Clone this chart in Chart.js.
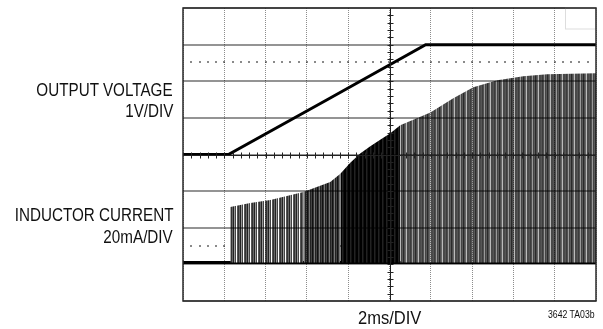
<!DOCTYPE html>
<html>
<head>
<meta charset="utf-8">
<script src="https://cdn.jsdelivr.net/npm/chart.js@4.4.1/dist/chart.umd.min.js"></script>
<style>
  html, body { margin:0; padding:0; background:#fff; }
  #wrap { position:relative; width:603px; height:329px; }
  .lbl { position:absolute; font-family:"Liberation Sans", Arial, sans-serif; color:#111; line-height:1; white-space:nowrap; }
  .dir { transform:scaleX(0.87); transform-origin:right top; text-align:right; }
  .esq { transform:scaleX(0.87); transform-origin:left top; }
</style>
</head>
<body>
<div id="wrap">
  <canvas id="scope" width="603" height="329"></canvas>
  <div class="lbl dir" style="right:430px; top:82px; font-size:17.5px;">OUTPUT VOLTAGE</div>
  <div class="lbl dir" style="right:430px; top:102.5px; font-size:17.5px;">1V/DIV</div>
  <div class="lbl dir" style="right:430px; top:207px; font-size:17.5px;">INDUCTOR CURRENT</div>
  <div class="lbl dir" style="right:430px; top:228.5px; font-size:17.5px;">20mA/DIV</div>
  <div class="lbl esq" style="left:358px; top:308px; font-size:19px;">2ms/DIV</div>
  <div class="lbl dir" style="right:8px; top:310px; font-size:10px;">3642 TA03b</div>
</div>
<script>
// Tensão de saída (1V/DIV), tempo em ms (2ms/DIV)
const tempoTensao = [0, 2.2, 7.0, 11.75, 20];
const tensao = [0, 0, 1.5, 3.0, 3.0];

// Corrente no indutor (20mA/DIV): topo dos pulsos lido da tela
const tempoCorrente = [2.29, 3.26, 4.23, 5.83, 7.13, 7.62, 8.10, 8.58, 9.07, 9.55, 10.04, 10.52, 11.98, 13.09, 14.06, 15.22, 16.48, 17.64, 20];
const picoCorrente = [30.3, 32.5, 34.1, 38.5, 44.0, 48.5, 54.5, 59.5, 63.5, 67.0, 70.6, 75, 82, 89.7, 95.7, 99.5, 101.7, 102.8, 103.4];
const tempoBase = [0, 20];
const correnteBase = [0, 0];

// cursores pontilhados do osciloscópio
const cursorTensao = 2.52;
const cursorCorrente = 9;

// trechos do envelope (índices) com densidade de pulsos diferente
const faixas = [[0, 3], [3, 5], [5, 11], [11, 18]];
const tonsFaixa = [
    ['#333', '#666', '#222', '#999', '#444', '#fff', '#555'],
    ['#222', '#444', '#111', '#333', '#777'],
    ['#000', '#000', '#222', '#111'],
    ['#4a4a4a', '#555', '#3c3c3c', '#505050', '#9a9a9a', '#444', '#5a5a5a', '#2a2a2a', '#4d4d4d', '#666', '#bbb', '#484848']
];

function listrado(cores) {
    const c = document.createElement('canvas');
    c.width = cores.length; c.height = 1;
    const g = c.getContext('2d');
    cores.forEach((cor, i) => { g.fillStyle = cor; g.fillRect(i, 0, 1, 1); });
    return g.createPattern(c, 'repeat');
}

function pares(xs, ys) {
    return xs.map((x, i) => ({ x: x, y: ys[i] }));
}

const decoracao = {
    id: 'decoracao',
    beforeDatasetsDraw(chart) {
        const { ctx, chartArea: a, scales } = chart;
        const passo = (a.right - a.left) / 50;
        ctx.save();
        ctx.fillStyle = '#8a8a8a';
        [scales.y.getPixelForValue(cursorTensao), scales.y2.getPixelForValue(cursorCorrente)].forEach(py => {
            for (let px = a.left + passo; px < a.right - 2; px += passo) ctx.fillRect(Math.round(px) - 1, Math.round(py) - 1, 2, 2);
        });
        ctx.restore();
    },
    afterDraw(chart) {
        const { ctx, chartArea: a, scales } = chart;
        const cx = Math.round(scales.x.getPixelForValue(10)) + 0.5;
        const cy = Math.round(scales.y.getPixelForValue(0)) + 0.5;
        const dx = (a.right - a.left) / 50, dy = (a.bottom - a.top) / 40;
        ctx.save();
        ctx.strokeStyle = '#222'; ctx.lineWidth = 1;
        ctx.beginPath();
        ctx.moveTo(a.left, cy); ctx.lineTo(a.right, cy);
        ctx.moveTo(cx, a.top); ctx.lineTo(cx, a.bottom);
        for (let i = 1; i < 50; i++) { const px = Math.round(a.left + i * dx) + 0.5; ctx.moveTo(px, cy - 3); ctx.lineTo(px, cy + 3); }
        for (let i = 1; i < 40; i++) { const py = Math.round(a.top + i * dy) + 0.5; ctx.moveTo(cx - 3, py); ctx.lineTo(cx + 3, py); }
        ctx.stroke();
        // marca clara no canto superior direito
        ctx.strokeStyle = '#ddd';
        ctx.strokeRect(565.5, a.top, a.right - 565.5, 21);
        // moldura
        ctx.strokeStyle = '#2a2a2a'; ctx.lineWidth = 1.5;
        ctx.strokeRect(a.left, a.top, a.right - a.left, a.bottom - a.top);
        ctx.restore();
    }
};

const datasets = [];
faixas.forEach((f, i) => {
    datasets.push({
        data: pares(tempoCorrente.slice(f[0], f[1] + 1), picoCorrente.slice(f[0], f[1] + 1)),
        yAxisID: 'y2', borderWidth: 0, pointRadius: 0, tension: 0,
        backgroundColor: listrado(tonsFaixa[i]), fill: { value: 0 }
    });
});
datasets.push({ data: pares(tempoBase, correnteBase), yAxisID: 'y2', borderColor: '#000', borderWidth: 3, pointRadius: 0, fill: false });
datasets.push({ data: pares(tempoTensao, tensao), yAxisID: 'y', borderColor: '#000', borderWidth: 3, pointRadius: 0, tension: 0, fill: false });

new Chart(document.getElementById('scope'), {
    type: 'line',
    data: { datasets: datasets },
    options: {
        responsive: false, animation: false, devicePixelRatio: 1,
        layout: { padding: { left: 183, right: 7, top: 8, bottom: 28 } },
        plugins: { legend: { display: false }, tooltip: { enabled: false } },
        scales: {
            x: {
                type: 'linear', min: 0, max: 20,
                ticks: { display: false, stepSize: 2 },
                grid: { color: 'rgba(0,0,0,0.45)', lineWidth: 1, drawTicks: false, z: 1 },
                border: { display: false, dash: [1, 1] }
            },
            y: {
                min: -4, max: 4,
                ticks: { display: false, stepSize: 1 },
                grid: { color: 'rgba(0,0,0,0.42)', lineWidth: 2, drawTicks: false, z: 1 },
                border: { display: false }
            },
            y2: { display: false, min: -21, max: 139 }
        }
    },
    plugins: [decoracao]
});
</script>
</body>
</html>
